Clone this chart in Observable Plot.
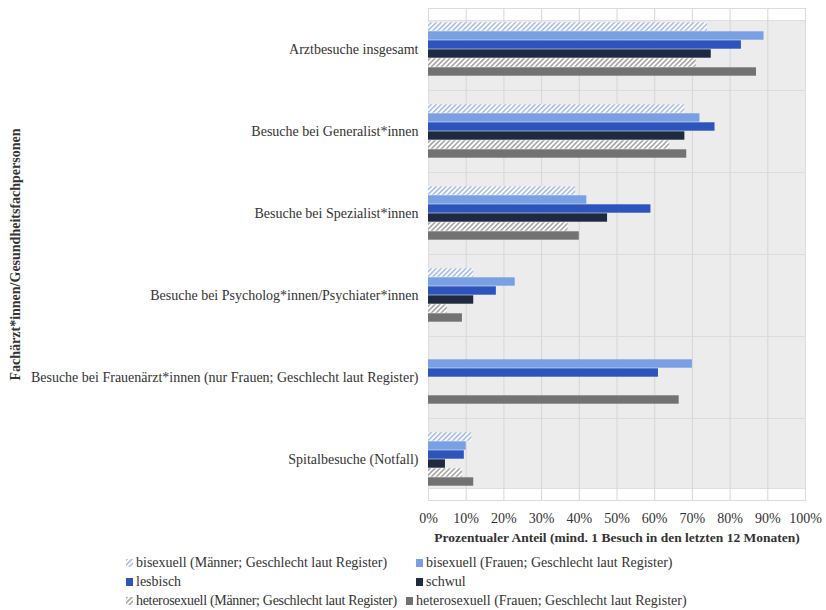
<!DOCTYPE html>
<html>
<head>
<meta charset="utf-8">
<script src="https://cdn.jsdelivr.net/npm/d3@7"></script>
<script src="https://cdn.jsdelivr.net/npm/@observablehq/plot@0.6"></script>
<style>
  html, body { margin: 0; padding: 0; background: #fff; }
  #wrap { position: relative; width: 826px; height: 610px; font-family: "Liberation Serif", "DejaVu Serif", serif; color: #333; }
  #legend { position: absolute; left: 0; top: 555px; width: 826px; font-size: 14px; }
  .li { position: absolute; white-space: nowrap; line-height: 16px; }
  .li svg { vertical-align: 0px; margin-right: 3px; }
</style>
</head>
<body>
<svg width="0" height="0" style="position:absolute">
  <defs>
    <pattern id="hatchBlue" patternUnits="userSpaceOnUse" width="3.5" height="3.5" patternTransform="rotate(45)">
      <rect width="3.5" height="3.5" fill="#ffffff"/>
      <rect width="1.6" height="3.5" fill="#a8bde6"/>
    </pattern>
    <pattern id="hatchGray" patternUnits="userSpaceOnUse" width="3.5" height="3.5" patternTransform="rotate(45)">
      <rect width="3.5" height="3.5" fill="#ffffff"/>
      <rect width="1.6" height="3.5" fill="#a3a3a3"/>
    </pattern>
  </defs>
</svg>
<div id="wrap">
  <div id="chart"></div>
  <div id="legend"></div>
</div>
<script>
const categories = [
  "Arztbesuche insgesamt",
  "Besuche bei Generalist*innen",
  "Besuche bei Spezialist*innen",
  "Besuche bei Psycholog*innen/Psychiater*innen",
  "Besuche bei Frauenärzt*innen (nur Frauen; Geschlecht laut Register)",
  "Spitalbesuche (Notfall)"
];
const series = [
  "bisexuell (Männer; Geschlecht laut Register)",
  "bisexuell (Frauen; Geschlecht laut Register)",
  "lesbisch",
  "schwul",
  "heterosexuell (Männer; Geschlecht laut Register)",
  "heterosexuell (Frauen; Geschlecht laut Register)"
];
const seriesFills = ["url(#hatchBlue)", "#79a0e3", "#2d53bd", "#1f2940", "url(#hatchGray)", "#727272"];
// values per series, in category order (null = not applicable)
const biMen      = [0.74, 0.68, 0.39, 0.12, null, 0.115];
const biWomen    = [0.89, 0.72, 0.42, 0.23, 0.70, 0.10];
const lesbisch   = [0.83, 0.76, 0.59, 0.18, 0.61, 0.095];
const schwul     = [0.75, 0.68, 0.475, 0.12, null, 0.045];
const heteroMen  = [0.71, 0.64, 0.37, 0.05, null, 0.09];
const heteroWomen= [0.87, 0.685, 0.40, 0.09, 0.665, 0.12];
const xTicks = [0, 0.1, 0.2, 0.3, 0.4, 0.5, 0.6, 0.7, 0.8, 0.9, 1];

const valueLists = [biMen, biWomen, lesbisch, schwul, heteroMen, heteroWomen];
const data = [];
categories.forEach((c, i) => {
  series.forEach((s, j) => {
    const v = valueLists[j][i];
    if (v != null) data.push({category: c, series: s, value: v});
  });
});
const gridData = [];
categories.forEach(c => xTicks.slice(1, -1).forEach(t => gridData.push({category: c, x: t})));

const chart = Plot.plot({
  width: 826,
  height: 548,
  marginLeft: 428,
  marginRight: 21,
  marginTop: 8,
  marginBottom: 48,
  style: {fontFamily: "Liberation Serif, serif", fontSize: "12px", color: "#333", background: "transparent"},
  x: {domain: [0, 1], ticks: xTicks, tickFormat: d3.format(".0%")},
  fy: {domain: categories, paddingInner: 0.29, paddingOuter: 0.145},
  y: {domain: series, padding: 0, axis: null},
  color: {domain: series, range: seriesFills},
  marks: [
    Plot.frame({fill: "#ececec", stroke: "#e0e0e0", facet: "super"}),
    Plot.ruleX(gridData, {fy: "category", x: "x", stroke: "#d6d6d6", strokeWidth: 1, insetTop: -12, insetBottom: -12}),
    Plot.frame({fill: "none", stroke: "#dcdcdc", insetTop: -12, insetBottom: -12}),
    Plot.barX(data, {fy: "category", y: "series", x: "value", fill: "series", insetTop: 0.3, insetBottom: 0.3}),
    Plot.axisX({ticks: xTicks, tickFormat: d3.format(".0%"), tickSize: 0, tickPadding: 25, fontSize: 14,
      label: "Prozentualer Anteil (mind. 1 Besuch in den letzten 12 Monaten)", labelArrow: false, labelAnchor: "center", labelOffset: 53}),
    Plot.axisFy({anchor: "left", tickSize: 0, tickPadding: 10, fontSize: 14,
      label: "Fachärzt*innen/Gesundheitsfachpersonen", labelAnchor: "center", labelOffset: 418})
  ]
});
document.getElementById("chart").appendChild(chart);
chart.querySelectorAll('g[aria-label$="axis label"] text').forEach(t => {
  t.setAttribute("font-weight", "bold");
  t.setAttribute("font-size", t.closest('g[aria-label="x-axis label"]') ? "13.5" : "14");
  t.textContent = t.textContent.replace(/\s*[→↑←↓]\s*/g, "");
});

// legend
const legend = document.getElementById("legend");
const pos = [[126, 0], [416, 0], [126, 19], [416, 19], [126, 38], [406, 38]];
series.forEach((s, i) => {
  const d = document.createElement("div");
  d.className = "li";
  d.style.left = pos[i][0] + "px";
  d.style.top = pos[i][1] + "px";
  if (i === 4) d.style.letterSpacing = "-0.3px";
  d.innerHTML = `<svg width="7" height="8"><rect width="7" height="8" fill="${seriesFills[i]}"/></svg>` ;
  d.appendChild(document.createTextNode(s));
  legend.appendChild(d);
});
</script>
</body>
</html>
